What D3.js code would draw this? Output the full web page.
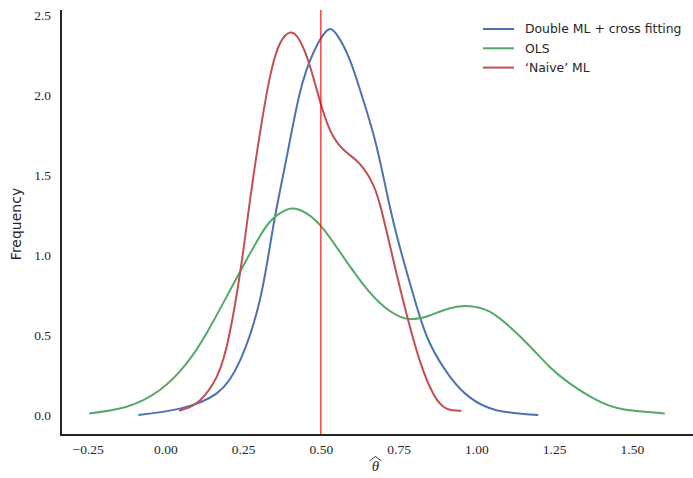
<!DOCTYPE html>
<html>
<head>
<meta charset="utf-8">
<script src="https://cdn.jsdelivr.net/npm/d3@7"></script>
<style>
  html, body { margin: 0; padding: 0; background: #fff; }
  svg { display: block; }
</style>
</head>
<body>
<svg id="chart" width="693" height="478"></svg>
<script>
// ---- data ----
const seriesNames = ["Double ML + cross fitting", "OLS", "'Naive' ML"];
const seriesColors = ["#4C72B0", "#55A868", "#C44E52"];

const dmlX = [-0.087, 0.047, 0.165, 0.24, 0.304, 0.347, 0.39, 0.432, 0.475, 0.518, 0.55, 0.593, 0.636, 0.679, 0.722, 0.765, 0.808, 0.85, 0.915, 0.979, 1.065, 1.199];
const dmlY = [0.0, 0.04, 0.135, 0.34, 0.72, 1.18, 1.61, 2.01, 2.26, 2.40, 2.38, 2.22, 1.97, 1.68, 1.30, 0.97, 0.68, 0.45, 0.24, 0.11, 0.03, 0.0];

const olsX = [-0.245, -0.125, -0.018, 0.068, 0.132, 0.197, 0.261, 0.325, 0.368, 0.406, 0.454, 0.507, 0.561, 0.593, 0.625, 0.658, 0.69, 0.722, 0.754, 0.786, 0.818, 0.85, 0.915, 0.979, 1.043, 1.108, 1.172, 1.236, 1.30, 1.386, 1.472, 1.606];
const olsY = [0.01, 0.052, 0.156, 0.323, 0.51, 0.74, 0.97, 1.18, 1.26, 1.29, 1.26, 1.165, 1.02, 0.93, 0.845, 0.765, 0.70, 0.65, 0.615, 0.60, 0.605, 0.622, 0.667, 0.68, 0.646, 0.55, 0.43, 0.30, 0.198, 0.094, 0.036, 0.01];

const naiveX = [0.044, 0.10, 0.154, 0.197, 0.24, 0.272, 0.304, 0.336, 0.368, 0.403, 0.432, 0.465, 0.502, 0.54, 0.583, 0.625, 0.668, 0.70, 0.743, 0.781, 0.818, 0.861, 0.904, 0.952];
const naiveY = [0.027, 0.073, 0.198, 0.427, 0.886, 1.34, 1.76, 2.11, 2.32, 2.39, 2.34, 2.18, 1.93, 1.74, 1.64, 1.57, 1.44, 1.24, 0.886, 0.59, 0.34, 0.135, 0.04, 0.027];

const xTicks = [-0.25, 0.0, 0.25, 0.5, 0.75, 1.0, 1.25, 1.5];
const xTickLabels = ["\u22120.25", "0.00", "0.25", "0.50", "0.75", "1.00", "1.25", "1.50"];
const yTicks = [0.0, 0.5, 1.0, 1.5, 2.0, 2.5];
const yTickLabels = ["0.0", "0.5", "1.0", "1.5", "2.0", "2.5"];
const trueValue = [0.5];

// ---- layout ----
const svg = d3.select("#chart");
const L = 61, R = 692, T = 10, B = 435;

const x = d3.scaleLinear().domain([-0.3357, 1.6935]).range([L, R]);
const y = d3.scaleLinear().domain([-0.125, 2.5313]).range([B, T]);

const serif = "'Liberation Serif', 'DejaVu Serif', serif";
const sans = "'DejaVu Sans', 'Open Sans', sans-serif";

// x axis
const xAxis = d3.axisBottom(x).tickValues(xTicks)
  .tickFormat((d, i) => xTickLabels[i]).tickSize(0).tickPadding(9);
const gx = svg.append("g").attr("transform", `translate(0,${B})`).call(xAxis);
gx.select(".domain").remove();
gx.selectAll("text").attr("font-family", serif).attr("font-size", 13.5).attr("fill", "#262626");

// y axis
const yAxis = d3.axisLeft(y).tickValues(yTicks)
  .tickFormat((d, i) => yTickLabels[i]).tickSize(0).tickPadding(10);
const gy = svg.append("g").attr("transform", `translate(${L},0)`).call(yAxis);
gy.select(".domain").remove();
gy.selectAll("text").attr("font-family", serif).attr("font-size", 13.5).attr("fill", "#262626");

// curves
const line = d3.line().x(d => x(d[0])).y(d => y(d[1])).curve(d3.curveNatural);
const series = [
  { xs: dmlX, ys: dmlY },
  { xs: olsX, ys: olsY },
  { xs: naiveX, ys: naiveY }
];
series.forEach((s, i) => {
  svg.append("path")
    .datum(s.xs.map((v, j) => [v, s.ys[j]]))
    .attr("d", line)
    .attr("fill", "none")
    .attr("stroke", seriesColors[i])
    .attr("stroke-width", 2)
    .attr("stroke-linejoin", "round")
    .attr("stroke-linecap", "butt");
});

// true value line
svg.selectAll(".vline").data(trueValue).enter().append("line")
  .attr("x1", d => x(d)).attr("x2", d => x(d))
  .attr("y1", T).attr("y2", B)
  .attr("stroke", "#ff0000").attr("stroke-width", 1.1);

// spines
svg.append("line").attr("x1", L).attr("x2", L).attr("y1", T).attr("y2", B + 1)
  .attr("stroke", "#262626").attr("stroke-width", 2);
svg.append("line").attr("x1", L - 1).attr("x2", R + 1).attr("y1", B).attr("y2", B)
  .attr("stroke", "#262626").attr("stroke-width", 2);

// axis labels
svg.append("text")
  .attr("transform", `translate(21,224) rotate(-90)`)
  .attr("text-anchor", "middle")
  .attr("font-family", sans).attr("font-size", 14).attr("fill", "#262626")
  .text("Frequency");

const xc = (L + R) / 2 - 1;
svg.append("text")
  .attr("x", xc).attr("y", 471)
  .attr("text-anchor", "middle")
  .attr("font-family", serif).attr("font-style", "italic").attr("font-size", 15).attr("fill", "#262626")
  .text("\u03B8");
// wide hat over theta
svg.append("path")
  .attr("d", `M${xc - 6},${461} L${xc},${456.5} L${xc + 6},${461}`)
  .attr("fill", "none").attr("stroke", "#262626").attr("stroke-width", 0.9);

// legend
const lg = svg.append("g").attr("transform", "translate(483,29)");
seriesNames.forEach((name, i) => {
  const row = lg.append("g").attr("transform", `translate(0,${i * 19.3})`);
  row.append("line").attr("x1", 0).attr("x2", 31).attr("y1", 0).attr("y2", 0)
    .attr("stroke", seriesColors[i]).attr("stroke-width", 2);
  row.append("text").attr("x", 42).attr("y", 0).attr("dy", "0.35em")
    .attr("font-family", sans).attr("font-size", 12.4).attr("fill", "#262626")
    .text(name.replace(/'/g, "\u2019").replace(/^\u2019/, "\u2018"));
});
</script>
</body>
</html>
